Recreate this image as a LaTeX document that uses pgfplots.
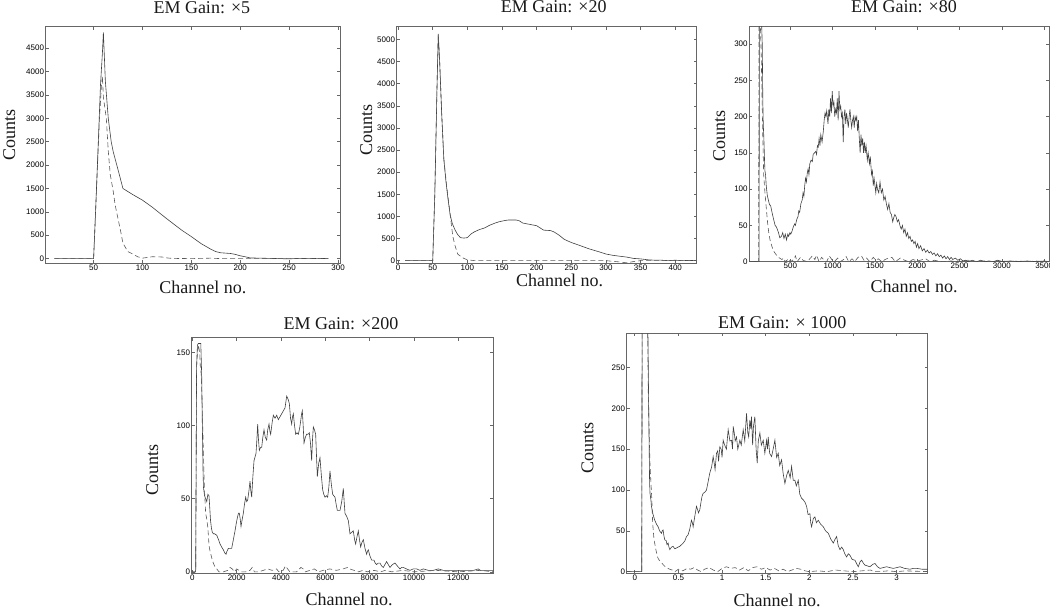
\documentclass[border=0pt]{standalone}
\usepackage{fontspec}
\setmainfont{Liberation Serif}
\setsansfont{Liberation Sans}
\usepackage{pgfplots}
\pgfplotsset{compat=1.18}
\pgfplotsset{
  emstyle/.style={
    scale only axis, anchor=north west,
    axis line style={draw=black!60, line width=0.6pt},
    tick align=inside, major tick length=3pt,
    tick style={black!60, line width=0.5pt},
    tick pos=both, ticklabel pos=left,
    tick label style={font=\sffamily\fontsize{8}{9}\selectfont, text=black},
    xticklabel style={inner sep=1.5pt},
    yticklabel style={inner sep=1.5pt},
    /pgf/number format/assume math mode=true,
    /pgf/number format/1000 sep={},
    scaled ticks=false,
    label style={font=\fontsize{18}{20}\selectfont, text=black!90},
    every axis title/.style={at={(0.5,1)}, anchor=base, font=\fontsize{18}{20}\selectfont, text=black!90},
    clip=true,
  },
  sol/.style={no marks, line width=0.6pt, black!75, solid},
  dsh/.style={no marks, line width=0.6pt, black!65, dash pattern=on 5pt off 3pt},
}
\begin{document}
\begin{tikzpicture}[x=1pt,y=1pt]
\path[use as bounding box] (0,0) rectangle (1050,610);

% ---------- Plot 1 ----------
\begin{axis}[emstyle, at={(45.7pt,583.3pt)}, width=294.3pt, height=236.6pt,
  xmin=1, xmax=302, ymin=-100, ymax=4960,
  xtick={50,100,...,300}, ytick={0,500,...,4500},
  title={EM Gain: ×5}, title style={yshift=13.4pt, xshift=9pt},
  xlabel={Channel no.}, xlabel style={at={(axis description cs:0.5,0)}, anchor=base, yshift=-30pt, xshift=10pt},
  ylabel={Counts}, ylabel style={at={(axis description cs:-0.104,0.542)}, anchor=base},
]
\addplot[sol] coordinates {(10,0) (50,0) (52,1000) (55,2600) (57,3700) (59,4400) (60,4840) (62,3800) (65,3000) (68,2500) (70,2290) (75,1900) (80,1500) (90,1370) (100,1250) (110,1100) (125,850) (140,610) (150,470) (160,320) (170,200) (175,150) (180,125) (190,110) (195,90) (200,60) (205,40) (210,15) (220,10) (230,5) (240,0) (250,-5) (260,5) (270,0) (280,5) (290,0)};
\addplot[dsh] coordinates {(10,0) (50,0) (53,1500) (56,3000) (58,3700) (59,3900) (60,3450) (63,3000) (65,2300) (67,1800) (70,1450) (72,1150) (75,850) (78,550) (80,330) (85,150) (90,100) (95,40) (100,10) (110,40) (120,35) (125,15) (130,5) (150,0) (170,10) (180,0) (200,0) (290,0)};
\end{axis}

% ---------- Plot 2 ----------
\begin{axis}[emstyle, at={(396.7pt,583.3pt)}, width=300pt, height=236.6pt,
  xmin=-2, xmax=431, ymin=-60, ymax=5290,
  xtick={0,50,...,400}, ytick={0,500,...,5000},
  title={EM Gain: ×20}, title style={yshift=14pt, xshift=7pt},
  xlabel={Channel no.}, xlabel style={at={(axis description cs:0.5,0)}, anchor=base, yshift=-23.5pt, xshift=13pt},
  ylabel={Counts}, ylabel style={at={(axis description cs:-0.082,0.563)}, anchor=base},
]
\addplot[sol] coordinates {(10,0) (50,0) (53,1500) (56,3800) (58,5130) (60,4500) (63,3300) (66,2300) (69,1800) (72,1400) (75,1050) (78,850) (82,700) (86,590) (90,520) (95,510) (100,520) (105,600) (110,650) (117,700) (125,740) (132,800) (140,850) (146,880) (155,910) (160,920) (170,920) (175,900) (180,850) (190,820) (200,790) (205,740) (210,690) (220,680) (225,650) (232,580) (240,480) (250,410) (261,350) (275,270) (290,200) (300,150) (310,120) (320,100) (330,80) (340,50) (350,40) (360,20) (370,10) (380,10) (390,0) (400,10) (410,0) (420,5) (430,0)};
\addplot[dsh] coordinates {(10,0) (50,0) (53,1500) (56,3800) (58,5100) (60,4500) (63,3300) (66,2300) (70,1700) (74,1200) (77,800) (79,550) (82,350) (86,150) (90,100) (95,50) (100,20) (110,0) (200,0) (300,0) (320,-30) (330,-50) (340,-20) (350,0) (430,0)};
\end{axis}

% ---------- Plot 3 ----------
\begin{axis}[emstyle, at={(749.3pt,583.3pt)}, width=299.5pt, height=235pt,
  xmin=15, xmax=3555, ymin=0, ymax=324,
  xtick={0,500,...,3500}, ytick={0,50,...,300},
  title={EM Gain: ×80}, title style={yshift=14pt, xshift=5pt},
  xlabel={Channel no.}, xlabel style={at={(axis description cs:0.5,0)}, anchor=base, yshift=-31pt, xshift=15pt},
  ylabel={Counts}, ylabel style={at={(axis description cs:-0.081,0.533)}, anchor=base},
]
\addplot[sol] coordinates {(15,0) (120,0) (130,0) (135,340) (150,340) (160,330) (168,300) (175,220) (180,190) (187,170) (195,140) (200,125) (207,120) (215,105) (227,92) (240,85) (255,78) (266,78) (280,70) (295,62) (305,57) (320,50) (335,48) (345,45) (360,40) (375,33) (385,34) (395,35) (410,40) (425,32) (440,38) (455,30) (470,38) (480,35) (495,40) (505,38) (520,42) (535,48) (550,52) (560,50) (575,58) (590,62) (600,70) (610,68) (625,80) (640,85) (650,95) (660,90) (670,105) (680,115) (690,110) (700,122) (710,128) (720,120) (730,135) (745,140) (760,138) (770,148) (785,150) (800,152) (810,148) (820,160) (830,158) (840,170) (850,160) (860,175) (875,165) (890,180) (900,195) (910,205) (920,200) (930,208) (945,190) (955,210) (965,200) (975,225) (985,205) (995,235) (1005,215) (1015,220) (1025,200) (1035,210) (1045,205) (1055,225) (1065,195) (1075,235) (1085,210) (1095,215) (1105,200) (1115,205) (1125,165) (1135,200) (1145,210) (1155,190) (1165,205) (1175,195) (1185,185) (1195,200) (1205,210) (1215,195) (1225,185) (1235,195) (1245,200) (1255,185) (1265,200) (1275,195) (1285,200) (1295,180) (1305,195) (1315,170) (1325,150) (1335,175) (1345,160) (1355,170) (1365,150) (1375,165) (1385,150) (1395,160) (1410,140) (1420,150) (1435,135) (1445,145) (1460,120) (1470,125) (1480,105) (1490,115) (1500,105) (1510,95) (1520,108) (1530,100) (1545,95) (1560,110) (1575,95) (1590,100) (1605,85) (1620,90) (1635,80) (1650,72) (1665,80) (1680,68) (1695,65) (1710,55) (1720,60) (1735,65) (1750,62) (1765,55) (1780,58) (1795,50) (1810,45) (1825,50) (1840,40) (1855,45) (1870,35) (1885,40) (1900,32) (1915,35) (1930,28) (1945,30) (1960,25) (1975,28) (1990,20) (2005,25) (2020,18) (2040,22) (2060,15) (2080,18) (2100,13) (2120,16) (2140,12) (2160,14) (2180,10) (2200,12) (2220,8) (2240,11) (2260,7) (2280,9) (2300,5) (2320,8) (2340,4) (2360,7) (2380,3) (2400,6) (2420,3) (2450,5) (2480,2) (2510,4) (2540,1) (2570,2) (2600,0) (2650,2) (2700,0) (2750,2) (2800,0) (2850,1) (2900,0) (2950,2) (3000,0) (3100,1) (3200,0) (3300,1) (3400,0) (3500,1) (3560,0)};
\addplot[dsh] coordinates {(15,0) (125,0) (130,330) (145,330) (155,290) (165,230) (175,170) (185,120) (200,95) (215,75) (230,55) (245,40) (260,30) (280,22) (300,15) (330,10) (360,6) (400,3) (420,5) (440,0) (480,4) (500,0) (540,3) (560,8) (580,0) (620,6) (650,2) (700,0) (760,8) (790,3) (810,9) (840,0) (870,6) (900,2) (930,0) (960,8) (990,3) (1020,0) (1060,5) (1090,0) (1130,3) (1160,7) (1190,0) (1230,4) (1260,0) (1300,6) (1340,8) (1370,2) (1400,5) (1440,0) (1480,6) (1510,2) (1540,4) (1580,0) (1620,3) (1660,5) (1700,6) (1740,0) (1800,5) (1850,2) (1900,0) (1950,3) (2000,1) (2100,4) (2150,0) (2200,2) (2300,0) (2400,1) (2500,0) (2600,2) (2700,0) (2800,1) (2900,0) (3000,1) (3100,0) (3200,1) (3300,0) (3400,1) (3500,0) (3560,0)};
\end{axis}

% ---------- Plot 4 ----------
\begin{axis}[emstyle, at={(191.7pt,272.3pt)}, width=301.6pt, height=235.6pt,
  xmin=-30, xmax=13580, ymin=-1, ymax=160,
  xtick={0,2000,...,12000}, ytick={0,50,...,150},
  title={EM Gain: ×200}, title style={yshift=8pt, xshift=-1.5pt},
  xlabel={Channel no.}, xlabel style={at={(axis description cs:0.5,0)}, anchor=base, yshift=-32.7pt, xshift=6.5pt},
  ylabel={Counts}, ylabel style={at={(axis description cs:-0.111,0.438)}, anchor=base},
]
\addplot[sol] coordinates {(0,0) (150,0) (190,140) (230,155) (270,156) (380,156) (420,135) (450,100) (480,70) (500,58) (550,52) (600,50) (650,48) (700,53) (750,52) (780,45) (820,35) (860,30) (900,27) (950,26) (1000,26) (1100,25) (1180,22) (1250,19) (1320,17) (1400,15) (1460,13) (1519,12) (1560,14) (1624,16) (1700,16) (1774,16) (1850,22) (1925,28) (1980,33) (2030,37) (2080,40) (2120,40) (2160,36) (2195,31) (2250,36) (2300,40) (2350,46) (2406,51) (2450,48) (2496,49) (2550,55) (2602,62) (2640,55) (2677,51) (2730,65) (2782,76) (2820,78) (2872,81) (2910,90) (2947,101) (2985,90) (3022,83) (3075,85) (3128,85) (3180,92) (3233,97) (3290,92) (3353,90) (3400,97) (3459,101) (3500,96) (3534,94) (3600,102) (3654,107) (3730,105) (3805,107) (3880,104) (3955,106) (4030,108) (4105,110) (4180,112) (4256,120) (4320,118) (4376,115) (4430,105) (4481,101) (4520,106) (4556,108) (4610,100) (4662,94) (4720,95) (4782,94) (4840,98) (4887,103) (4930,108) (4962,110) (5000,100) (5038,88) (5100,92) (5158,94) (5220,94) (5278,95) (5330,88) (5383,76) (5420,90) (5459,99) (5510,97) (5564,94) (5600,80) (5639,65) (5700,74) (5759,78) (5820,66) (5880,56) (5930,53) (5985,51) (6050,52) (6105,51) (6160,58) (6210,69) (6270,60) (6331,53) (6380,52) (6436,51) (6490,46) (6541,42) (6600,42) (6662,42) (6740,48) (6812,57) (6850,48) (6887,40) (6960,38) (7038,35) (7080,30) (7113,26) (7190,27) (7263,28) (7320,22) (7368,19) (7430,24) (7489,28) (7540,22) (7594,17) (7650,20) (7714,22) (7790,16) (7865,12) (7900,14) (7940,15) (8010,11) (8090,8) (8140,8) (8195,8) (8250,6) (8316,5) (8390,6) (8466,6) (8540,4) (8617,3) (8690,5) (8767,7) (8840,5) (8917,3) (9030,5) (9143,6) (9250,4) (9368,2) (9440,3) (9519,3) (9660,2) (9820,1) (9970,2) (10120,2) (10270,1) (10421,2) (10650,1) (10872,1) (11100,2) (11323,1) (11600,1) (11925,1) (12200,1) (12526,1) (12700,1) (12902,2) (13000,1) (13128,1) (13350,1) (13579,1)};
\addplot[dsh] coordinates {(0,0) (150,0) (190,140) (230,150) (270,155) (330,150) (360,140) (400,135) (450,110) (500,80) (550,55) (600,40) (650,36) (700,30) (752,18) (800,14) (900,8) (947,6) (1000,4) (1100,2) (1200,0) (1400,0) (1600,1) (1700,3) (1800,2) (1900,0) (2000,2) (2100,1) (2200,0) (2400,0) (2600,1) (2700,3) (2800,0) (3000,0) (3200,1) (3400,2) (3600,1) (3800,2) (3900,0) (4100,1) (4200,4) (4300,2) (4400,0) (4700,0) (4900,3) (5000,2) (5100,0) (5300,1) (5500,2) (5700,0) (5900,1) (6200,2) (6500,1) (6800,2) (7000,3) (7100,2) (7300,1) (7500,0) (7700,1) (7900,0) (8200,1) (8500,0) (8700,1) (9000,0) (9500,1) (10000,0) (11000,1) (12000,0) (13000,1) (13580,0)};
\end{axis}

% ---------- Plot 5 ----------
\begin{axis}[emstyle, at={(626.7pt,276.7pt)}, width=301pt, height=240pt,
  xmin=-0.092, xmax=3.355, ymin=-2, ymax=292,
  x filter/.expression={x/10000},
  xtick={0,0.5,...,3}, xticklabels={0,0.5,1,1.5,2,2.5,3}, ytick={0,50,...,250},
  title={EM Gain: × 1000}, title style={yshift=5pt, xshift=5pt},
  xlabel={Channel no.}, xlabel style={at={(axis description cs:0.5,0)}, anchor=base, yshift=-33.4pt},
  ylabel={Counts}, ylabel style={at={(axis description cs:-0.111,0.521)}, anchor=base},
]
\addplot[sol] coordinates {(-920,0) (700,0) (800,0) (850,320) (1400,320) (1500,300) (1600,200) (1700,110) (1750,96) (1850,88) (1911,80) (2100,70) (2293,63) (2500,58) (2675,55) (2850,50) (3057,47) (3150,50) (3248,51) (3340,44) (3439,39) (3600,38) (3700,33) (3822,35) (3920,30) (4013,27) (4200,30) (4395,31) (4580,28) (4777,29) (4950,30) (5150,31) (5350,33) (5550,35) (5750,38) (5924,43) (6100,45) (6300,52) (6497,63) (6600,60) (6688,55) (6880,68) (7070,80) (7200,76) (7300,72) (7452,76) (7600,86) (7700,92) (7834,96) (8000,97) (8217,100) (8400,110) (8599,121) (8800,128) (8981,141) (9100,133) (9200,125) (9363,145) (9500,148) (9600,135) (9745,153) (9900,150) (10000,140) (10127,161) (10300,155) (10500,150) (10700,174) (10900,160) (11083,161) (11200,150) (11274,178) (11400,170) (11500,160) (11656,165) (11800,150) (12038,161) (12200,155) (12420,174) (12600,160) (12803,194) (12950,170) (13050,165) (13185,186) (13300,175) (13376,190) (13500,155) (13600,178) (13758,190) (13900,150) (14025,133) (14150,160) (14331,170) (14500,155) (14713,161) (14900,145) (15096,161) (15200,150) (15287,165) (15450,145) (15669,141) (15850,150) (16051,161) (16250,140) (16433,145) (16600,130) (16815,137) (17000,120) (17197,108) (17400,118) (17580,124) (17800,115) (17962,129) (18150,112) (18344,112) (18500,105) (18726,112) (18900,95) (19100,90) (19299,88) (19500,85) (19682,80) (19850,70) (20064,71) (20150,60) (20255,55) (20450,65) (20637,67) (20800,60) (21019,63) (21300,58) (21592,55) (21850,50) (22166,47) (22450,40) (22739,35) (22950,40) (23121,43) (23300,32) (23503,27) (23700,30) (23885,27) (24050,22) (24268,18) (24450,22) (24650,20) (24900,15) (25223,14) (25400,10) (25605,6) (25800,12) (25987,14) (26200,10) (26369,8) (26650,7) (26943,6) (27250,9) (27516,10) (27800,6) (28089,4) (28450,5) (28854,6) (29200,5) (29618,4) (30000,5) (30382,6) (30900,4) (31529,3) (31900,4) (32293,4) (32900,3) (33554,3)};
\addplot[dsh] coordinates {(-920,0) (700,0) (800,0) (850,330) (1400,330) (1500,280) (1550,220) (1650,170) (1750,130) (1850,110) (1950,90) (2050,60) (2200,40) (2400,28) (2600,18) (2800,14) (3000,12) (3300,8) (3600,5) (4000,3) (4300,2) (4600,0) (5000,3) (5500,1) (6000,4) (6400,3) (6800,5) (7200,2) (7600,0) (8000,3) (8500,5) (9000,2) (9500,0) (10000,4) (10500,6) (11000,4) (11500,5) (12000,2) (12500,5) (13000,1) (13500,5) (14000,6) (14500,3) (15000,5) (15500,2) (16000,4) (16500,1) (17000,3) (17500,0) (18000,2) (18500,4) (19000,3) (19500,1) (20000,0) (21000,1) (22000,0) (23000,2) (24000,1) (25000,0) (26000,1) (27000,2) (27500,0) (28000,0) (29000,1) (30000,0) (31000,1) (33554,0)};
\node[font=\sffamily\fontsize{8}{9}\selectfont, text=black] at (axis description cs:0.961,-0.099) {x 10\textsuperscript{4}};
\end{axis}
\end{tikzpicture}
\end{document}
